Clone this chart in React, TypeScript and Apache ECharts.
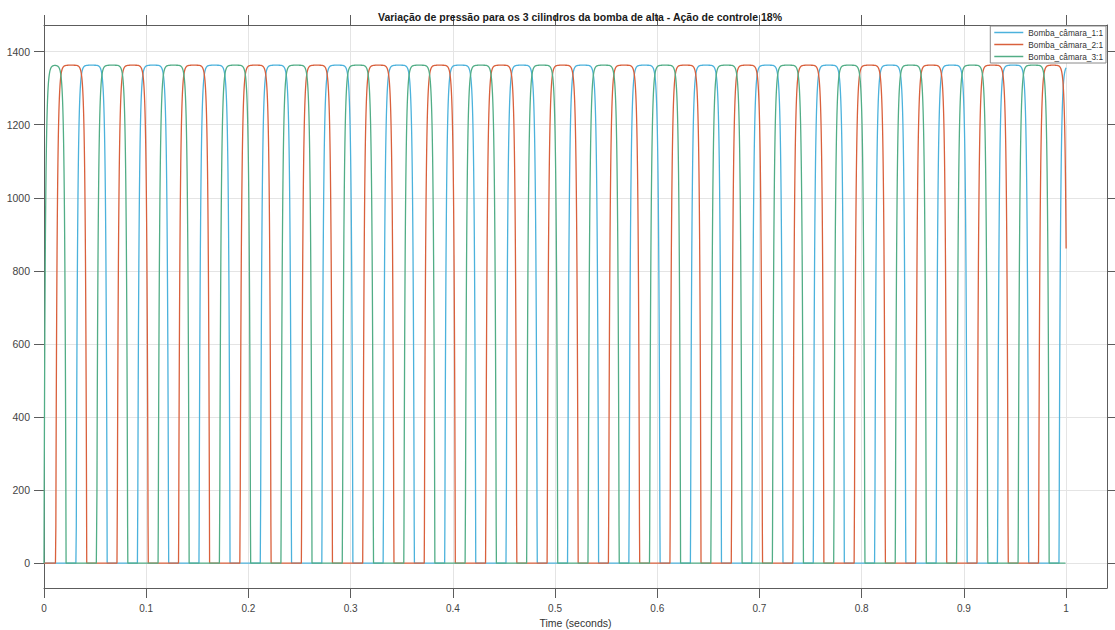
import { useEffect, useRef } from "react";
import * as echarts from "echarts";

// Pressure traces of the three high-pressure pump chambers
const seriesNames = ["Bomba_câmara_1:1", "Bomba_câmara_2:1", "Bomba_câmara_3:1"];
const seriesColors = ["#4cb2dc", "#d9603c", "#52ad86"];

// Plateau pressure reached by each chamber while it is pressurised
const plateauPressure = 1363;
// Time constant of the pressure build-up / release edges (s)
const edgeTau = 0.0013;
const sampleStep = 0.0002;
const simEnd = 1;

// Start (rise) and end (release) instants of every pressure pulse, in seconds
const camara1Rise = [0.0315, 0.0916, 0.1517, 0.2118, 0.2719, 0.332, 0.3921, 0.4522, 0.5123, 0.5724, 0.6325, 0.6926, 0.7527, 0.8128, 0.8729, 0.933, 0.9931];
const camara1Fall = [0.0618, 0.1219, 0.182, 0.2421, 0.3022, 0.3623, 0.4224, 0.4825, 0.5426, 0.6027, 0.6628, 0.7229, 0.783, 0.8431, 0.9032, 0.9633, 1.0234];

const camara2Rise = [0.0115, 0.0716, 0.1317, 0.1918, 0.2519, 0.312, 0.3721, 0.4322, 0.4923, 0.5524, 0.6125, 0.6726, 0.7327, 0.7928, 0.8529, 0.913, 0.9731];
const camara2Fall = [0.0418, 0.1019, 0.162, 0.2221, 0.2822, 0.3423, 0.4024, 0.4625, 0.5226, 0.5827, 0.6428, 0.7029, 0.763, 0.8231, 0.8832, 0.9433, 1.0013];

const camara3Rise = [0.0, 0.0516, 0.1117, 0.1718, 0.2319, 0.292, 0.3521, 0.4122, 0.4723, 0.5324, 0.5925, 0.6526, 0.7127, 0.7728, 0.8329, 0.893, 0.9531];
const camara3Fall = [0.0216, 0.0819, 0.142, 0.2021, 0.2622, 0.3223, 0.3824, 0.4425, 0.5026, 0.5627, 0.6228, 0.6829, 0.743, 0.8031, 0.8632, 0.9233, 0.9834];

const xTicks = [0, 0.1, 0.2, 0.3, 0.4, 0.5, 0.6, 0.7, 0.8, 0.9, 1];
const yTicks = [0, 200, 400, 600, 800, 1000, 1200, 1400];

const xMin = 0;
const xMax = 1.04;
const yMin = -68;
const yMax = 1473;

const titleText = "Variação de pressão para os 3 cilindros da bomba de alta - Ação de controle 18%";
const xName = "Time (seconds)";

const FONT = "'Liberation Sans', Arial, Helvetica, sans-serif";
const AXIS_COLOR = "#5c5c5c";
const GRID_COLOR = "#e4e4e4";

// First-order build-up towards the plateau (and its mirror for the release)
function edge(d: number): number {
  if (d <= 0) return 0;
  return 1 - Math.exp(-d / edgeTau);
}

// Samples one chamber trace from its pulse edges
function buildTrace(rise: number[], fall: number[]): [number, number][] {
  const out: [number, number][] = [];
  const n = Math.round(simEnd / sampleStep);
  for (let i = 0; i <= n; i++) {
    const t = +(i * sampleStep).toFixed(5);
    let v = 0;
    for (let k = 0; k < rise.length; k++) {
      if (t >= rise[k] && t <= fall[k]) {
        v = plateauPressure * edge(t - rise[k]) * edge(fall[k] - t);
        break;
      }
    }
    out.push([t, +v.toFixed(2)]);
  }
  return out;
}

const fmt = (v: number) => String(parseFloat(Number(v).toFixed(2)));

export default function App() {
  const ref = useRef<HTMLDivElement>(null);

  useEffect(() => {
    if (!ref.current) return;
    const chart = echarts.init(ref.current, undefined, { renderer: "svg" });

    const traces = [
      buildTrace(camara1Rise, camara1Fall),
      buildTrace(camara2Rise, camara2Fall),
      buildTrace(camara3Rise, camara3Fall),
    ];

    const boxAxisLine = { show: true, onZero: false, lineStyle: { color: AXIS_COLOR, width: 1 } };

    chart.setOption({
      animation: false,
      backgroundColor: "#ffffff",
      textStyle: { fontFamily: FONT },
      title: {
        text: titleText,
        left: 575,
        top: 6,
        textAlign: "center",
        textStyle: { fontFamily: FONT, fontSize: 10.5, fontWeight: "bold", color: "#1a1a1a" },
      },
      legend: {
        data: seriesNames,
        orient: "vertical",
        right: 9,
        top: 26,
        icon: "rect",
        itemWidth: 29,
        itemHeight: 1.5,
        itemGap: 3,
        padding: [2, 3, 2, 4],
        backgroundColor: "#ffffff",
        borderColor: "#8a8a8a",
        borderWidth: 1,
        borderRadius: 0,
        textStyle: { fontFamily: FONT, fontSize: 8.3, color: "#333333", lineHeight: 9 },
      },
      grid: { left: 44, right: 8, top: 25, bottom: 42, containLabel: false, outerBoundsMode: "none" },
      xAxis: [
        {
          type: "value",
          position: "bottom",
          min: xMin,
          max: xMax,
          axisLine: boxAxisLine,
          axisTick: { show: true, inside: false, length: 10, customValues: xTicks, lineStyle: { color: AXIS_COLOR } },
          axisLabel: { customValues: xTicks, margin: 15, fontSize: 10, color: "#444444", fontFamily: FONT, formatter: fmt },
          splitLine: { show: true, lineStyle: { color: GRID_COLOR, width: 1 } },
          name: xName,
          nameLocation: "middle",
          nameGap: 29,
          nameTextStyle: { fontFamily: FONT, fontSize: 10.5, color: "#333333" },
        },
        {
          type: "value",
          position: "top",
          min: xMin,
          max: xMax,
          axisLine: boxAxisLine,
          axisTick: { show: true, inside: false, length: 10, customValues: xTicks, lineStyle: { color: AXIS_COLOR } },
          axisLabel: { show: false },
          splitLine: { show: false },
        },
      ],
      yAxis: [
        {
          type: "value",
          position: "left",
          min: yMin,
          max: yMax,
          axisLine: boxAxisLine,
          axisTick: { show: true, inside: false, length: 10, customValues: yTicks, lineStyle: { color: AXIS_COLOR } },
          axisLabel: { customValues: yTicks, margin: 14, fontSize: 10.5, color: "#444444", fontFamily: FONT, formatter: fmt },
          splitLine: { show: true, lineStyle: { color: GRID_COLOR, width: 1 } },
        },
        {
          type: "value",
          position: "right",
          min: yMin,
          max: yMax,
          axisLine: boxAxisLine,
          axisTick: { show: true, inside: false, length: 10, customValues: yTicks, lineStyle: { color: AXIS_COLOR } },
          axisLabel: { show: false },
          splitLine: { show: false },
        },
      ],
      series: traces.map((data, i) => ({
        name: seriesNames[i],
        type: "line",
        xAxisIndex: 0,
        yAxisIndex: 0,
        data,
        symbol: "none",
        showSymbol: false,
        clip: true,
        lineStyle: { color: seriesColors[i], width: 1.3 },
        itemStyle: { color: seriesColors[i] },
        emphasis: { disabled: true },
      })),
    });

    return () => chart.dispose();
  }, []);

  return (
    <div
      ref={ref}
      style={{ position: "absolute", left: 0, top: 0, width: 1115, height: 630 }}
    />
  );
}
